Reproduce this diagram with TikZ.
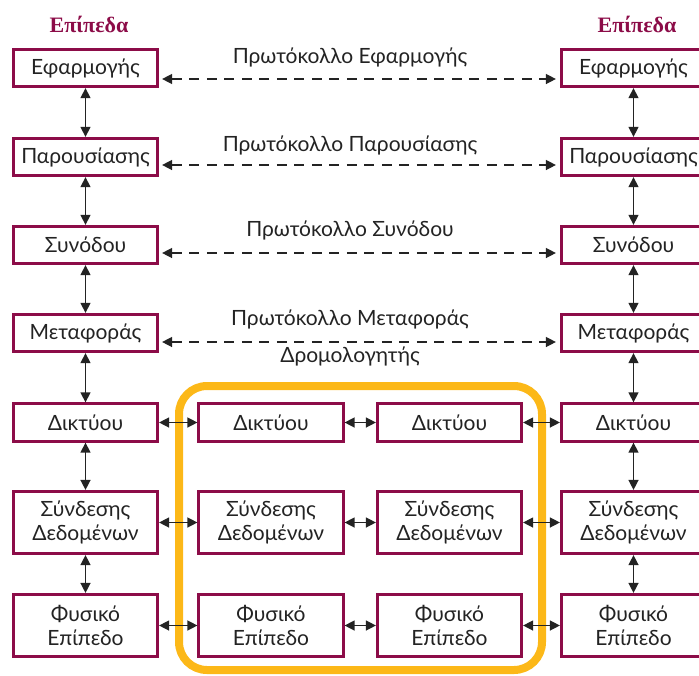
\documentclass[tikz,border=0pt]{standalone}
\usepackage{fontspec}
\setmainfont{Lato}
\newfontfamily\titlefont{Liberation Serif}
\usetikzlibrary{arrows.meta}
\definecolor{layerred}{RGB}{140,12,72}
\definecolor{routergold}{RGB}{252,184,24}
\definecolor{ink}{RGB}{35,35,35}
\begin{document}
\begin{tikzpicture}[x=1pt,y=-1pt,
  layer/.style={draw=layerred, line width=2.8pt, minimum width=144.4pt,
    minimum height=37.5pt, inner sep=0pt, text=ink, align=center,
    font=\fontsize{21}{24}\selectfont},
  tall/.style={layer, minimum height=62.4pt},
  link/.style={draw=ink, line width=1.4pt,
    {Triangle[length=10pt,width=10pt]}-{Triangle[length=10pt,width=10pt]}},
  proto/.style={link, dash pattern=on 10pt off 7.5pt, shorten <=3pt, shorten >=4pt},
  protolabel/.style={text=ink, font=\fontsize{21}{24}\selectfont, inner sep=0pt, anchor=base},
  heading/.style={text=layerred, font=\titlefont\bfseries\fontsize{22}{24}\selectfont, inner sep=0pt, anchor=base}
]
\useasboundingbox (0,0) rectangle (699,675);
\clip (0,0) rectangle (699,675);

% router enclosure
\draw[routergold, line width=8pt, rounded corners=28pt] (179,386) rectangle (542,670);

% headings
\node[heading] (hl) at (89,32) {Επίπεδα};
\node[heading] (hr) at (637,32) {Επίπεδα};

% left host stack
\node[layer] (l1) at (85.5,68) {Εφαρμογής};
\node[layer] (l2) at (85.5,157) {Παρουσίασης};
\node[layer] (l3) at (85.5,245) {Συνόδου};
\node[layer] (l4) at (85.5,333) {Μεταφοράς};
\node[layer] (l5) at (85.5,422.5) {Δικτύου};
\node[tall]  (l6) at (85.5,522.5) {Σύνδεσης\\Δεδομένων};
\node[tall]  (l7) at (85.5,625.5) {Φυσικό\\Επίπεδο};

% right host stack
\node[layer] (r1) at (633.5,68) {Εφαρμογής};
\node[layer] (r2) at (633.5,157) {Παρουσίασης};
\node[layer] (r3) at (633.5,245) {Συνόδου};
\node[layer] (r4) at (633.5,333) {Μεταφοράς};
\node[layer] (r5) at (633.5,422.5) {Δικτύου};
\node[tall]  (r6) at (633.5,522.5) {Σύνδεσης\\Δεδομένων};
\node[tall]  (r7) at (633.5,625.5) {Φυσικό\\Επίπεδο};

% router stacks
\node[layer] (a5) at (271,422.5) {Δικτύου};
\node[tall]  (a6) at (271,522.5) {Σύνδεσης\\Δεδομένων};
\node[tall]  (a7) at (271,625.5) {Φυσικό\\Επίπεδο};
\node[layer] (b5) at (449.5,422.5) {Δικτύου};
\node[tall]  (b6) at (449.5,522.5) {Σύνδεσης\\Δεδομένων};
\node[tall]  (b7) at (449.5,625.5) {Φυσικό\\Επίπεδο};

\node[protolabel] (router) at (350,362) {Δρομολογητής};

% peer protocols
\node[protolabel] (p1) at (350,63) {Πρωτόκολλο Εφαρμογής};
\node[protolabel] (p2) at (350,151) {Πρωτόκολλο Παρουσίασης};
\node[protolabel] (p3) at (350,236) {Πρωτόκολλο Συνόδου};
\node[protolabel] (p4) at (350,325) {Πρωτόκολλο Μεταφοράς};
\draw[proto] ([yshift=-11pt]l1.east) -- ([yshift=-11pt]r1.west);
\draw[proto] ([yshift=-8pt]l2.east) -- ([yshift=-8pt]r2.west);
\draw[proto] ([yshift=-8pt]l3.east) -- ([yshift=-8pt]r3.west);
\draw[proto] ([yshift=-9pt]l4.east) -- ([yshift=-9pt]r4.west);

% vertical interfaces
\foreach \s in {l,r}{
  \draw[link] (\s1) -- (\s2);
  \draw[link] (\s2) -- (\s3);
  \draw[link] (\s3) -- (\s4);
  \draw[link] (\s4) -- (\s5);
  \draw[link] (\s5) -- (\s6);
  \draw[link] (\s6) -- (\s7);
}

% horizontal links through the router
\foreach \n in {5,6,7}{
  \draw[link] (l\n) -- (a\n);
  \draw[link] (a\n) -- (b\n);
  \draw[link] (b\n) -- (r\n);
}
\end{tikzpicture}
\end{document}
